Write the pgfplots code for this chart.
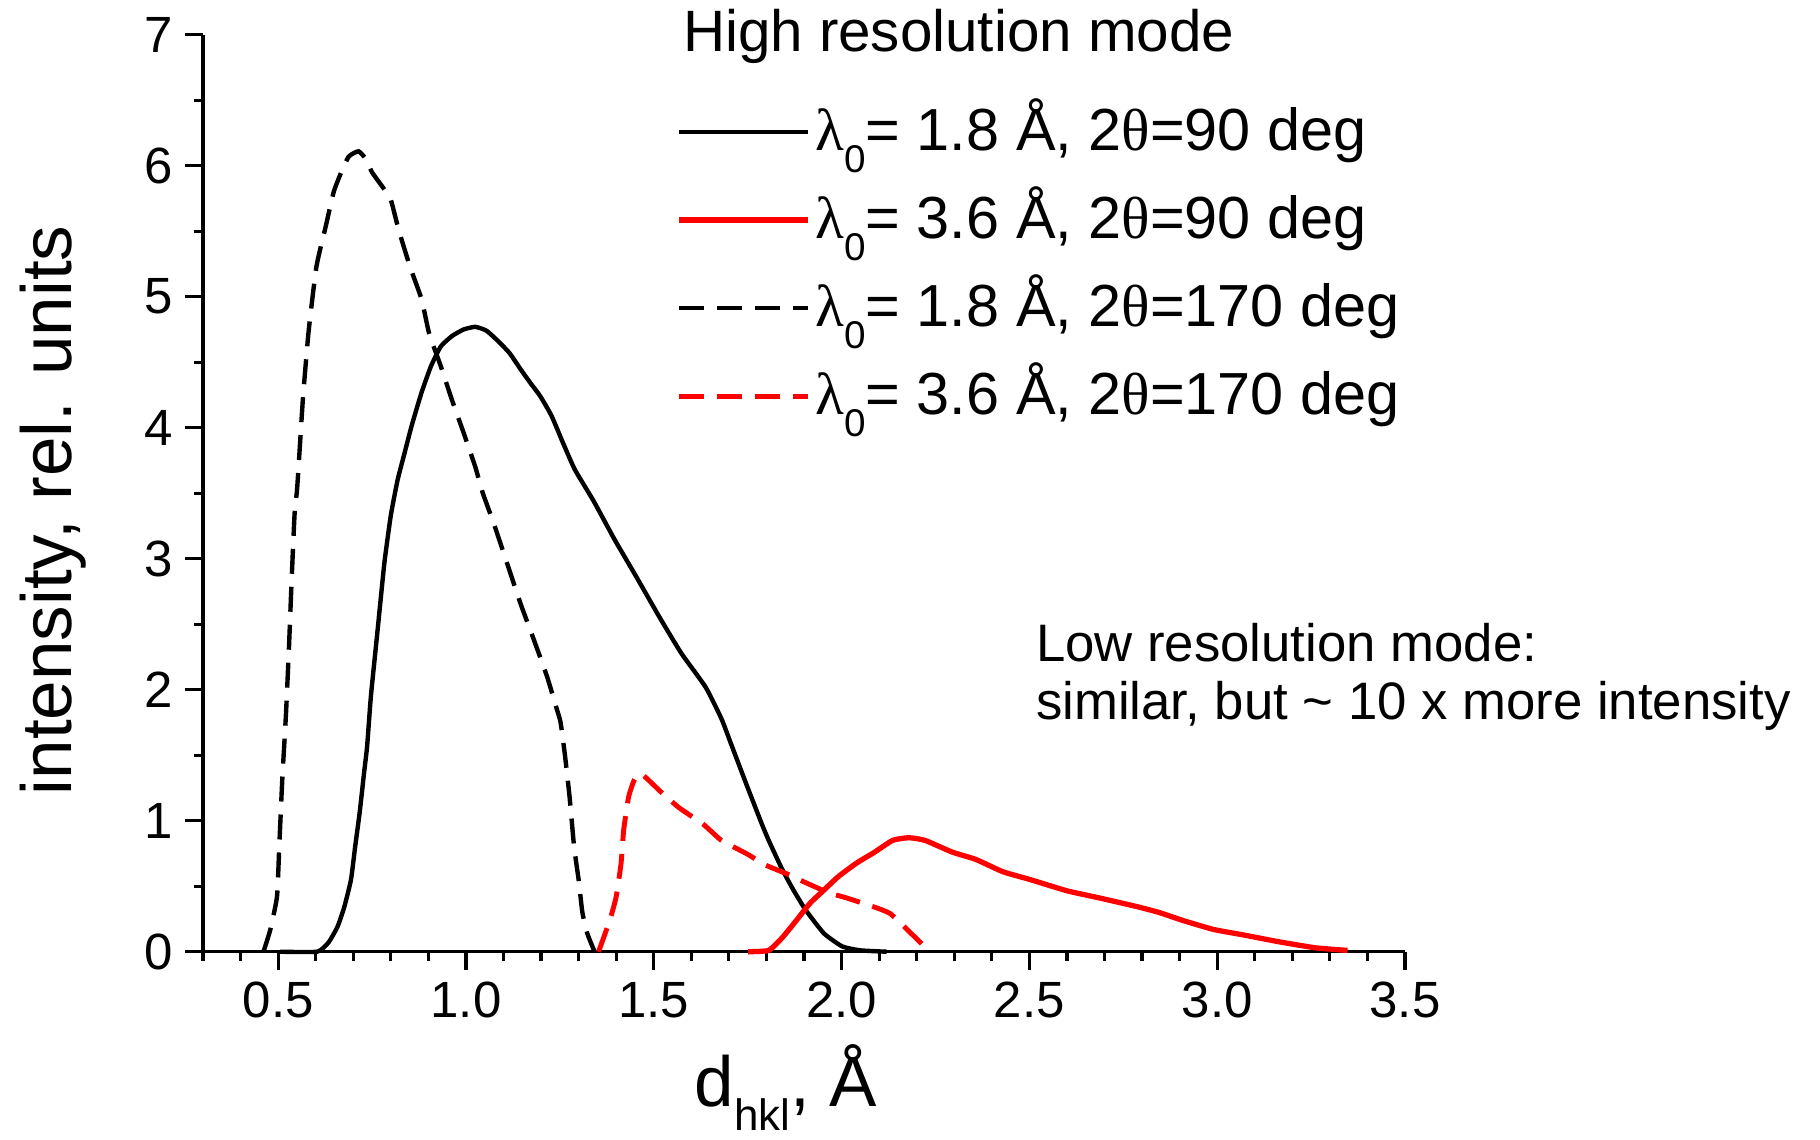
\documentclass[border=0pt]{standalone}
\usepackage{fontspec}
\setmainfont{Liberation Sans}
\newfontfamily\symf{Liberation Serif}
\usepackage{pgfplots}
\pgfplotsset{compat=1.18}
\definecolor{myred}{RGB}{255,0,0}
\newcommand{\lz}{{\symf λ}\raisebox{-0.22cm}{\fontsize{11}{12}\selectfont 0}}
\newcommand{\tth}{2{\symf θ}}
\begin{document}
\begin{tikzpicture}
\begin{axis}[
  at={(0,0)}, anchor=south west,
  scale only axis, width=12.02cm, height=9.17cm,
  xmin=0.3, xmax=3.5, ymin=0, ymax=7,
  axis lines*=left,
  axis line style={line width=0.9pt},
  every tick/.style={line width=0.9pt, black},
  tick align=outside,
  major tick length=0.18cm, minor tick length=0.09cm,
  xtick={0.5,1.0,1.5,2.0,2.5,3.0,3.5},
  minor xtick={0.3,0.4,0.6,0.7,0.8,0.9,1.1,1.2,1.3,1.4,1.6,1.7,1.8,1.9,2.1,2.2,2.3,2.4,2.6,2.7,2.8,2.9,3.1,3.2,3.3,3.4},
  ytick={0,1,2,3,4,5,6,7},
  minor ytick={0.5,1.5,2.5,3.5,4.5,5.5,6.5},
  /pgf/number format/assume math mode=true,
  xticklabel style={/pgf/number format/.cd, fixed, fixed zerofill, precision=1},
  tick label style={font=\fontsize{14.5}{16}\selectfont},
  every axis y label/.style={at={(axis description cs:-0.109,0.4814)}, rotate=90, anchor=base, font=\fontsize{20.2}{24}\selectfont},
  every axis x label/.style={at={(axis description cs:0.485,-0.1690)}, anchor=base, inner sep=0pt, font=\fontsize{20.2}{24}\selectfont},
  ylabel={intensity, rel. units},
  xlabel={d\raisebox{-0.24cm}{\fontsize{12.5}{14}\selectfont hkl}, Å},
  clip=false,
  legend cell align=left,
  legend style={at={(axis cs:1.558,6.598)}, anchor=north west, draw=none, fill=none,
    inner sep=0pt, row sep=0pt,
    font=\fontsize{16.9}{19}\selectfont,
    nodes={inner sep=0pt, text height=0.62cm, text depth=0.26cm},
    /tikz/every odd column/.append style={column sep=0.05cm}},
  legend image code/.code={\draw[#1] (0cm,0cm) -- (1.29cm,0cm);},
]
\addplot[black, line width=1.25pt, smooth, tension=0.3] coordinates {
(0.505,0) (0.604,0) (0.634,0.07) (0.658,0.19) (0.676,0.34) (0.694,0.55) (0.705,0.80) (0.717,1.06) (0.729,1.37) (0.737,1.57) (0.747,1.95) (0.765,2.46) (0.783,2.97) (0.800,3.33) (0.818,3.60) (0.836,3.80) (0.856,4.02) (0.882,4.27) (0.907,4.47) (0.933,4.62) (0.963,4.70) (0.994,4.75) (1.025,4.77) (1.055,4.74) (1.086,4.66) (1.116,4.57) (1.147,4.44) (1.172,4.34) (1.198,4.24) (1.228,4.09) (1.259,3.88) (1.290,3.68) (1.340,3.44) (1.395,3.15) (1.454,2.86) (1.514,2.56) (1.573,2.28) (1.638,2.02) (1.680,1.78) (1.704,1.60) (1.745,1.29) (1.787,0.98) (1.806,0.85) (1.840,0.64) (1.870,0.48) (1.904,0.32) (1.953,0.14) (2.002,0.04) (2.051,0.01) (2.120,0)
};
\addlegendentry{\lz= 1.8 Å, \tth=90 deg}
\addplot[myred, line width=1.5pt, smooth, tension=0.3] coordinates {
(1.751,0) (1.806,0.01) (1.843,0.11) (1.880,0.24) (1.916,0.37) (1.953,0.47) (1.990,0.57) (2.039,0.675) (2.088,0.76) (2.136,0.85) (2.179,0.87) (2.222,0.85) (2.295,0.76) (2.357,0.705) (2.430,0.61) (2.503,0.55) (2.600,0.465) (2.687,0.41) (2.785,0.345) (2.845,0.30) (2.907,0.24) (2.990,0.17) (3.066,0.13) (3.164,0.076) (3.261,0.03) (3.347,0.01)
};
\addlegendentry{\lz= 3.6 Å, \tth=90 deg}
\addplot[black, line width=1.25pt, dash pattern=on 0.25cm off 0.13cm, smooth, tension=0.3] coordinates {
(0.461,0.0) (0.479,0.166) (0.497,0.42) (0.503,0.80) (0.511,1.31) (0.521,1.82) (0.529,2.33) (0.536,2.84) (0.544,3.35) (0.551,3.55) (0.566,4.22) (0.581,4.73) (0.602,5.23) (0.627,5.54) (0.648,5.80) (0.668,5.95) (0.688,6.07) (0.714,6.11) (0.734,6.05) (0.750,5.95) (0.780,5.83) (0.800,5.74) (0.821,5.51) (0.851,5.23) (0.882,4.98) (0.902,4.72) (0.933,4.47) (0.963,4.21) (0.994,3.96) (1.025,3.70) (1.045,3.50) (1.074,3.27) (1.109,2.97) (1.145,2.66) (1.181,2.38) (1.216,2.10) (1.240,1.87) (1.252,1.75) (1.264,1.49) (1.276,1.18) (1.288,0.80) (1.300,0.55) (1.310,0.30) (1.323,0.14) (1.341,0.01)
};
\addlegendentry{\lz= 1.8 Å, \tth=170 deg}
\addplot[myred, line width=1.4pt, dash pattern=on 0.25cm off 0.13cm, smooth, tension=0.3] coordinates {
(1.353,0) (1.383,0.24) (1.400,0.42) (1.413,0.675) (1.420,0.93) (1.433,1.18) (1.448,1.31) (1.466,1.36) (1.519,1.22) (1.567,1.10) (1.633,0.97) (1.680,0.85) (1.746,0.75) (1.799,0.66) (1.858,0.59) (1.906,0.525) (1.966,0.45) (2.014,0.41) (2.088,0.34) (2.130,0.29) (2.185,0.14) (2.228,0.02)
};
\addlegendentry{\lz= 3.6 Å, \tth=170 deg}
\node[anchor=base west, inner sep=0pt, font=\fontsize{16.6}{19}\selectfont] at (axis cs:1.576,6.875) {High resolution mode};
\node[anchor=base west, inner sep=0pt, font=\fontsize{15}{18}\selectfont] at (axis cs:2.516,2.216) {Low resolution mode:};
\node[anchor=base west, inner sep=0pt, font=\fontsize{15}{18}\selectfont] at (axis cs:2.516,1.773) {similar, but \textasciitilde{} 10 x more intensity};
\end{axis}
\pgfresetboundingbox
\useasboundingbox (-2.03,-1.873) rectangle (16.17,9.517);
\end{tikzpicture}
\end{document}
